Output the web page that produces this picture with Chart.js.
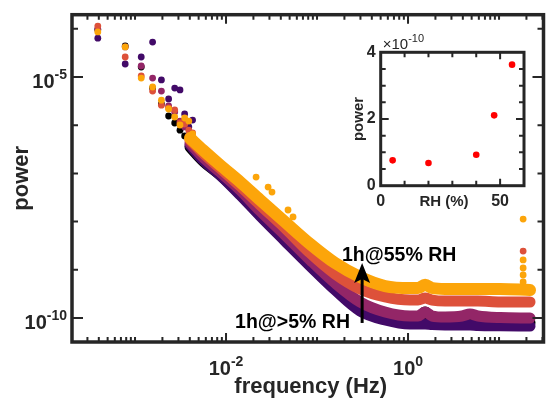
<!DOCTYPE html>
<html>
<head>
<meta charset="utf-8">
<script src="https://cdn.jsdelivr.net/npm/chart.js@4.4.0/dist/chart.umd.min.js"></script>
<style>
  html, body { margin: 0; padding: 0; background: #fff; }
  #wrap { position: relative; width: 548px; height: 399px; }
  #main { position: absolute; left: 0; top: 0; }
  #inset { position: absolute; left: 330px; top: 30px; }
</style>
</head>
<body>
<div id="wrap">
  <canvas id="main" width="548" height="399"></canvas>
  <canvas id="inset" width="210" height="185"></canvas>
</div>
<script>
// ---- main spectrum: sparse low-frequency points ----
const lowFreq = [3.9e-4, 7.8e-4, 1.17e-3, 1.56e-3, 1.95e-3, 2.34e-3, 2.73e-3, 3.12e-3, 3.51e-3, 3.9e-3, 4.29e-3];
const blackLow   = [9.6e-5, 4.4e-5, 1.61e-5, 5.9e-6, 2.75e-6, 1.55e-6, 1.11e-6, 7.9e-7, 6.0e-7, 4.9e-7, 4.1e-7];
const purpleLow  = [6.4e-5, 1.86e-5, 2.6e-5, 5.3e-5, 8.7e-6, 3.5e-6, 5.9e-6, 5.4e-6, 1.71e-6, 9.2e-7, 1.28e-6];
const magentaLow = [9.9e-5, 4.2e-5, 1.69e-5, 9.5e-6, 5.1e-6, 2.5e-6, 1.88e-6, 1.22e-6, 9.2e-7, 6.3e-7, 5.6e-7];
const redLow     = [1.14e-4, 2.6e-5, 1.05e-5, 5.1e-6, 2.6e-6, 2.28e-6, 2.07e-6, 1.11e-6, 1.06e-6, 7.9e-7, 6.9e-7];
const orangeLow  = [8.6e-5, 4.2e-5, 9.5e-6, 6.2e-6, 3.3e-6, 2.17e-6, 1.48e-6, 1.01e-6, 1.41e-6, 1.22e-6, 6.6e-7];

// ---- main spectrum: dense band, read along its middle ----
const bandFreq = [4.02e-3, 5.58e-3, 8.6e-3, 1.43e-2, 2.37e-2, 4.45e-2, 8.4e-2, 0.158, 0.297, 0.559,
                  1.05, 1.29, 1.54, 1.84, 2.55, 3.92, 4.8, 5.87, 10.3, 21.9];
const blackBand   = [3.53e-7, 1.81e-7, 9.27e-8, 3.74e-8, 1.37e-8, 4.15e-9, 1.26e-9, 4.0e-10, 1.54e-10, 1.0e-10,
                     8.3e-11, 8.3e-11, 1.33e-10, 8.3e-11, 8.3e-11, 8.3e-11, 8.3e-11, 8.3e-11, 8.0e-11, 8.0e-11];
const purpleBand  = [3.88e-7, 1.9e-7, 9.27e-8, 3.57e-8, 1.31e-8, 3.96e-9, 1.2e-9, 3.81e-10, 1.4e-10, 9.1e-11,
                     7.5e-11, 7.5e-11, 7.5e-11, 7.3e-11, 7.2e-11, 7.2e-11, 7.2e-11, 7.0e-11, 6.9e-11, 6.8e-11];
const magentaBand = [4.27e-7, 2.19e-7, 1.07e-7, 4.53e-8, 1.66e-8, 5.27e-9, 1.6e-9, 5.3e-10, 2.15e-10, 1.33e-10,
                     1.1e-10, 1.1e-10, 1.33e-10, 1.1e-10, 1.05e-10, 1.1e-10, 1.21e-10, 1.1e-10, 1.02e-10, 1.0e-10];
const redBand     = [4.93e-7, 2.65e-7, 1.29e-7, 5.48e-8, 2.21e-8, 7.36e-9, 2.23e-9, 8.2e-10, 4.0e-10, 2.73e-10,
                     2.36e-10, 2.36e-10, 2.6e-10, 2.36e-10, 2.25e-10, 2.25e-10, 2.25e-10, 2.25e-10, 2.15e-10, 2.15e-10];
const orangeBand  = [5.42e-7, 3.06e-7, 1.49e-7, 6.63e-8, 2.81e-8, 9.8e-9, 3.43e-9, 1.38e-9, 7.1e-10, 4.61e-10,
                     4.19e-10, 4.19e-10, 4.9e-10, 4.19e-10, 4.0e-10, 4.0e-10, 4.0e-10, 4.0e-10, 4.0e-10, 3.81e-10];

// scattered orange points above the band, and the spike near 18 Hz
const orangeNoiseFreq = [6.6e-3, 1.15e-2, 2.14e-2, 2.9e-2, 3.2e-2, 4.8e-2, 5.45e-2];
const orangeNoise     = [2.6e-7, 1.05e-7, 8.4e-8, 5.2e-8, 4.1e-8, 1.74e-8, 1.25e-8];
const spikeFreq   = [18.4, 18.4, 18.4, 18.4, 18.4];
const orangeSpike = [1.13e-8, 1.6e-9, 1.09e-9, 7.8e-10, 5.6e-10];
const redSpikeFreq = [18.4];
const redSpike     = [2.45e-9];

// ---- inset ----
const rh = [5, 20, 40, 47.5, 55];
const rhPower = [7.6e-11, 6.8e-11, 9.3e-11, 2.11e-10, 3.63e-10];

const AXIS = '#262626';
const FONT = '"Liberation Sans", Arial, sans-serif';
const COLORS = { black: '#000000', purple: '#420a68', magenta: '#932667', red: '#dd513a', orange: '#fca50a' };

function pts(xs, ys) { return xs.map((x, i) => ({ x: x, y: ys[i] })); }

function band(data, color, order, width) {
  return { data: data, showLine: true, borderColor: color, backgroundColor: color, borderWidth: width,
           pointRadius: 0, cubicInterpolationMode: 'monotone', borderCapStyle: 'round',
           borderJoinStyle: 'round', order: order };
}
function dots(data, color, order) {
  return { data: data, backgroundColor: color, borderWidth: 0, pointRadius: 3.4, order: order };
}

function drawPow(ctx, exp, x, y, align) {
  // "10" with superscript exponent; y = baseline of "10"
  ctx.font = 'bold 20px ' + FONT;
  const wb = ctx.measureText('10').width;
  ctx.font = 'bold 14px ' + FONT;
  const ws = ctx.measureText(exp).width;
  let left = align === 'right' ? x - wb - ws : x - (wb + ws) / 2;
  ctx.textAlign = 'left';
  ctx.textBaseline = 'alphabetic';
  ctx.font = 'bold 20px ' + FONT;
  ctx.fillText('10', left, y);
  ctx.font = 'bold 14px ' + FONT;
  ctx.fillText(exp, left + wb, y - 9);
}

const mainAxes = {
  id: 'mainAxes',
  afterDraw(chart) {
    const { ctx, chartArea: a, scales: { x, y } } = chart;
    ctx.save();
    ctx.strokeStyle = AXIS;
    ctx.fillStyle = AXIS;
    ctx.lineWidth = 2;
    ctx.beginPath();
    for (let d = -4; d <= 1; d++) {
      for (let m = 1; m <= 9; m++) {
        const v = m * Math.pow(10, d);
        if (v < x.min || v > x.max) continue;
        const px = x.getPixelForValue(v);
        const len = (m === 1 && (d === -2 || d === 0)) ? 9 : 5;
        ctx.moveTo(px, a.bottom); ctx.lineTo(px, a.bottom - len);
        ctx.moveTo(px, a.top); ctx.lineTo(px, a.top + len);
      }
    }
    for (let d = -11; d <= -3; d++) {
      const v = Math.pow(10, d);
      if (v < y.min || v > y.max) continue;
      const py = y.getPixelForValue(v);
      const len = (d === -5 || d === -10) ? 11 : 6;
      ctx.moveTo(a.left, py); ctx.lineTo(a.left + len, py);
      ctx.moveTo(a.right, py); ctx.lineTo(a.right - len, py);
    }
    ctx.stroke();
    ctx.lineWidth = 3.5;
    ctx.strokeRect(a.left, a.top, a.right - a.left, a.bottom - a.top);

    // tick labels
    drawPow(ctx, '-2', x.getPixelForValue(1e-2), a.bottom + 33, 'center');
    drawPow(ctx, '0', x.getPixelForValue(1), a.bottom + 33, 'center');
    drawPow(ctx, '-5', a.left - 5, y.getPixelForValue(1e-5) + 11, 'right');
    drawPow(ctx, '-10', a.left - 5, y.getPixelForValue(1e-10) + 11, 'right');

    // axis titles
    ctx.font = 'bold 22px ' + FONT;
    ctx.textAlign = 'center';
    ctx.textBaseline = 'alphabetic';
    ctx.fillText('frequency (Hz)', (a.left + a.right) / 2 + 3, 393);
    ctx.save();
    ctx.translate(28, (a.top + a.bottom) / 2);
    ctx.rotate(-Math.PI / 2);
    ctx.fillText('power', 0, 0);
    ctx.restore();

    // annotations
    ctx.fillStyle = '#000';
    ctx.strokeStyle = '#000';
    ctx.font = 'bold 19.5px ' + FONT;
    ctx.textAlign = 'left';
    ctx.fillText('1h@55% RH', x.getPixelForValue(0.188), y.getPixelForValue(1.55e-9));
    ctx.fillText('1h@>5% RH', x.getPixelForValue(0.01256), y.getPixelForValue(6.1e-11));
    const ax = x.getPixelForValue(0.313);
    const tip = y.getPixelForValue(1.38e-9);
    const base = y.getPixelForValue(7.9e-11);
    ctx.lineWidth = 3;
    ctx.beginPath();
    ctx.moveTo(ax, base); ctx.lineTo(ax, tip + 12);
    ctx.stroke();
    ctx.beginPath();
    ctx.moveTo(ax, tip);
    ctx.lineTo(ax - 8, tip + 20);
    ctx.lineTo(ax, tip + 16);
    ctx.lineTo(ax + 8, tip + 20);
    ctx.closePath();
    ctx.fill();
    ctx.restore();
  }
};

new Chart(document.getElementById('main'), {
  type: 'scatter',
  data: {
    datasets: [
      band(pts(bandFreq, orangeBand), COLORS.orange, 1, 12),
      dots(pts(lowFreq, orangeLow), COLORS.orange, 0),
      dots(pts(orangeNoiseFreq, orangeNoise), COLORS.orange, 0),
      dots(pts(spikeFreq, orangeSpike), COLORS.orange, 0),
      band(pts(bandFreq, redBand), COLORS.red, 3, 11),
      dots(pts(lowFreq, redLow), COLORS.red, 2),
      dots(pts(redSpikeFreq, redSpike), COLORS.red, 2),
      band(pts(bandFreq, magentaBand), COLORS.magenta, 5, 11),
      dots(pts(lowFreq, magentaLow), COLORS.magenta, 4),
      band(pts(bandFreq, purpleBand), COLORS.purple, 7, 11),
      dots(pts(lowFreq, purpleLow), COLORS.purple, 6),
      band(pts(bandFreq, blackBand), COLORS.black, 9, 11),
      dots(pts(lowFreq, blackLow), COLORS.black, 8)
    ]
  },
  options: {
    responsive: false,
    animation: false,
    events: [],
    layout: { padding: { left: 72, right: 4.5, top: 14.7, bottom: 57 } },
    plugins: { legend: { display: false }, tooltip: { enabled: false } },
    scales: {
      x: { type: 'logarithmic', min: 2.03e-4, max: 30.8, display: false },
      y: { type: 'logarithmic', min: 3.18e-11, max: 1.96e-4, display: false }
    }
  },
  plugins: [mainAxes]
});

const insetAxes = {
  id: 'insetAxes',
  beforeDraw(chart) {
    const { ctx, chartArea: a } = chart;
    ctx.save();
    ctx.fillStyle = '#fff';
    ctx.fillRect(a.left, a.top, a.right - a.left, a.bottom - a.top);
    ctx.restore();
  },
  afterDraw(chart) {
    const { ctx, chartArea: a, scales: { x, y } } = chart;
    ctx.save();
    ctx.strokeStyle = AXIS;
    ctx.fillStyle = AXIS;
    ctx.lineWidth = 2;
    ctx.beginPath();
    for (let v = 10; v < 60; v += 10) {
      const px = x.getPixelForValue(v);
      const len = v === 50 ? 7 : 5;
      ctx.moveTo(px, a.bottom); ctx.lineTo(px, a.bottom - len);
      ctx.moveTo(px, a.top); ctx.lineTo(px, a.top + len);
    }
    for (let k = 1; k < 8; k++) {
      const py = y.getPixelForValue(k * 0.5e-10);
      const len = k === 4 ? 8 : 5;
      ctx.moveTo(a.left, py); ctx.lineTo(a.left + len, py);
      ctx.moveTo(a.right, py); ctx.lineTo(a.right - len, py);
    }
    ctx.stroke();
    ctx.lineWidth = 3;
    ctx.strokeRect(a.left, a.top, a.right - a.left, a.bottom - a.top);

    ctx.font = 'bold 16px ' + FONT;
    ctx.textBaseline = 'middle';
    ctx.textAlign = 'right';
    ['0', '2', '4'].forEach((t, i) => {
      ctx.fillText(t, a.left - 5, y.getPixelForValue(i * 2e-10));
    });
    ctx.textAlign = 'center';
    ctx.textBaseline = 'alphabetic';
    ctx.fillText('0', x.getPixelForValue(0), a.bottom + 20);
    ctx.fillText('50', x.getPixelForValue(50), a.bottom + 20);
    ctx.font = 'bold 15px ' + FONT;
    ctx.fillText('RH (%)', x.getPixelForValue(26.5), a.bottom + 20);
    ctx.save();
    ctx.translate(a.left - 18, (a.top + a.bottom) / 2);
    ctx.rotate(-Math.PI / 2);
    ctx.fillText('power', 0, 0);
    ctx.restore();

    // ×10^-10 multiplier
    ctx.textAlign = 'left';
    ctx.font = '15px ' + FONT;
    ctx.fillText('\u00d710', a.left + 2, a.top - 3);
    const w = ctx.measureText('\u00d710').width;
    ctx.font = '11px ' + FONT;
    ctx.fillText('-10', a.left + 2 + w, a.top - 10);
    ctx.restore();
  }
};

new Chart(document.getElementById('inset'), {
  type: 'scatter',
  data: {
    datasets: [{ data: pts(rh, rhPower), backgroundColor: '#ff0000', borderWidth: 0, pointRadius: 3.3 }]
  },
  options: {
    responsive: false,
    animation: false,
    events: [],
    layout: { padding: { left: 50.7, right: 16, top: 22.3, bottom: 29.3 } },
    plugins: { legend: { display: false }, tooltip: { enabled: false } },
    scales: {
      x: { type: 'linear', min: 0, max: 60, display: false },
      y: { type: 'linear', min: 0, max: 4e-10, display: false }
    }
  },
  plugins: [insetAxes]
});
</script>
</body>
</html>
